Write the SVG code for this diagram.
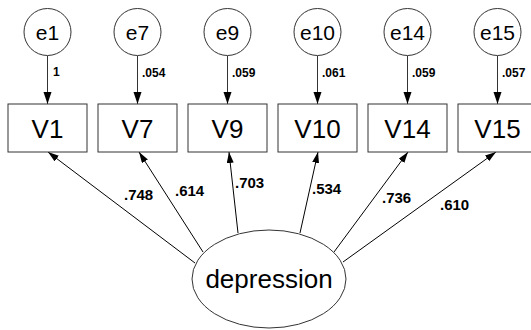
<svg xmlns="http://www.w3.org/2000/svg" width="531" height="330" viewBox="0 0 531 330">
<defs>
<marker id="ah" markerUnits="userSpaceOnUse" markerWidth="14" markerHeight="10" refX="12" refY="4" orient="auto">
<path d="M0,0 L12,4 L0,8 Z" fill="#000"/>
</marker>
<marker id="ah2" markerUnits="userSpaceOnUse" markerWidth="13" markerHeight="9" refX="11" refY="3.5" orient="auto">
<path d="M0,0 L11,3.5 L0,7 Z" fill="#000"/>
</marker>
</defs>
<style>
.box{fill:#fff;stroke:#333;stroke-width:1}
.err{fill:#fff;stroke:#333;stroke-width:1}
.t{font-family:"Liberation Sans",Arial,sans-serif;fill:#000}
.big{font-size:26px;text-anchor:middle}
.e{font-size:21px;text-anchor:middle}
.lbl{font-size:12px;font-weight:bold}
.ld{font-size:15px;font-weight:bold}
.ln{stroke:#333;stroke-width:1;fill:none}
.ln2{stroke:#000;stroke-width:1;fill:none}
</style>
<rect width="531" height="330" fill="#fff"/>
<g id="connectors">
<line class="ln" x1="47.5" y1="56" x2="47.5" y2="104" marker-end="url(#ah)"/>
<line class="ln" x1="137.5" y1="56" x2="137.5" y2="104" marker-end="url(#ah)"/>
<line class="ln" x1="227.5" y1="56" x2="227.5" y2="104" marker-end="url(#ah)"/>
<line class="ln" x1="317.5" y1="56" x2="317.5" y2="104" marker-end="url(#ah)"/>
<line class="ln" x1="407.5" y1="56" x2="407.5" y2="104" marker-end="url(#ah)"/>
<line class="ln" x1="497.5" y1="56" x2="497.5" y2="104" marker-end="url(#ah)"/>
<line class="ln2" x1="195" y1="263" x2="48" y2="152" marker-end="url(#ah2)"/>
<line class="ln2" x1="203" y1="252" x2="139" y2="152" marker-end="url(#ah2)"/>
<line class="ln2" x1="238" y1="233" x2="229" y2="152" marker-end="url(#ah2)"/>
<line class="ln2" x1="300" y1="233" x2="318" y2="152" marker-end="url(#ah2)"/>
<line class="ln2" x1="334" y1="252" x2="408" y2="152" marker-end="url(#ah2)"/>
<line class="ln2" x1="343" y1="262" x2="496" y2="152" marker-end="url(#ah2)"/>
<text class="t lbl" x="53" y="76">1</text>
<text class="t lbl" x="142" y="77">.054</text>
<text class="t lbl" x="232" y="77">.059</text>
<text class="t lbl" x="322" y="77">.061</text>
<text class="t lbl" x="412" y="77">.059</text>
<text class="t lbl" x="502" y="77">.057</text>
<text class="t ld" x="124" y="200">.748</text>
<text class="t ld" x="175" y="196">.614</text>
<text class="t ld" x="235" y="188">.703</text>
<text class="t ld" x="312" y="194">.534</text>
<text class="t ld" x="382" y="203">.736</text>
<text class="t ld" x="440" y="210">.610</text>
</g>
<g id="e1"><circle class="err" cx="47.5" cy="32" r="23.5"/><text class="t e" x="47.5" y="39.5">e1</text></g>
<g id="e7"><circle class="err" cx="137.5" cy="32" r="23.5"/><text class="t e" x="137.5" y="39.5">e7</text></g>
<g id="e9"><circle class="err" cx="227.5" cy="32" r="23.5"/><text class="t e" x="227.5" y="39.5">e9</text></g>
<g id="e10"><circle class="err" cx="317.5" cy="32" r="23.5"/><text class="t e" x="317.5" y="39.5">e10</text></g>
<g id="e14"><circle class="err" cx="407.5" cy="32" r="23.5"/><text class="t e" x="407.5" y="39.5">e14</text></g>
<g id="e15"><circle class="err" cx="497.5" cy="32" r="23.5"/><text class="t e" x="497.5" y="39.5">e15</text></g>
<g id="V1"><rect class="box" x="8" y="104" width="79" height="48"/><text class="t big" x="47.5" y="137.5">V1</text></g>
<g id="V7"><rect class="box" x="98" y="104" width="79" height="48"/><text class="t big" x="137.5" y="137.5">V7</text></g>
<g id="V9"><rect class="box" x="188" y="104" width="79" height="48"/><text class="t big" x="227.5" y="137.5">V9</text></g>
<g id="V10"><rect class="box" x="278" y="104" width="79" height="48"/><text class="t big" x="317.5" y="137.5">V10</text></g>
<g id="V14"><rect class="box" x="368" y="104" width="79" height="48"/><text class="t big" x="407.5" y="137.5">V14</text></g>
<g id="V15"><rect class="box" x="458" y="104" width="79" height="48"/><text class="t big" x="497.5" y="137.5">V15</text></g>
<g id="depression"><ellipse class="box" cx="269" cy="279" rx="77" ry="49"/><text class="t" x="269" y="288" font-size="26" text-anchor="middle">depression</text></g>
</svg>
